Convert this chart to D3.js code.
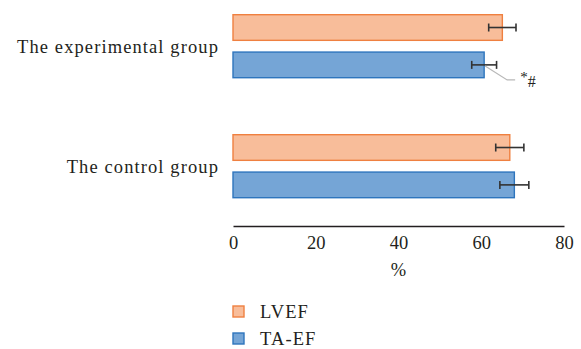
<!DOCTYPE html>
<html>
<head>
<meta charset="utf-8">
<script src="https://cdn.jsdelivr.net/npm/d3@7"></script>
<style>
  html, body { margin: 0; padding: 0; background: #fff; }
  svg { display: block; }
  svg text { font-family: "Liberation Serif", "DejaVu Serif", serif !important; fill: #231f20; }
</style>
</head>
<body>
<svg id="chart" width="581" height="349"></svg>
<script>
// Groups (top to bottom) and the two measured series
const groups = ["The experimental group", "The control group"];
const series = ["LVEF", "TA-EF"];
const lvefMean = [65.1, 66.9];
const lvefSd = [3.3, 3.4];
const taefMean = [60.7, 68.0];
const taefSd = [3.0, 3.5];
const xTicks = [0, 20, 40, 60, 80];
const xLabel = "%";
const sigMark = "*#";

const colors = {
  "LVEF": { fill: "#f8bd9a", stroke: "#ef8040" },
  "TA-EF": { fill: "#75a5d6", stroke: "#2e75bd" }
};

const rows = [];
groups.forEach((g, i) => {
  rows.push({ group: g, series: "LVEF", mean: lvefMean[i], sd: lvefSd[i] });
  rows.push({ group: g, series: "TA-EF", mean: taefMean[i], sd: taefSd[i] });
});

const FS = 18.5, LS = "1.1px";
const svg = d3.select("#chart");

const x = d3.scaleLinear().domain([0, 80]).range([233, 564]);
const yGroup = d3.scaleBand().domain(groups).range([14.7, 197.7])
  .paddingInner(0.475).paddingOuter(0);
const ySeries = d3.scaleBand().domain(series).range([0, yGroup.bandwidth()])
  .paddingInner(0.314).paddingOuter(0);

// Bars
svg.append("g").selectAll("rect").data(rows).join("rect")
  .attr("x", x(0))
  .attr("y", d => yGroup(d.group) + ySeries(d.series))
  .attr("width", d => x(d.mean) - x(0))
  .attr("height", ySeries.bandwidth())
  .attr("fill", d => colors[d.series].fill)
  .attr("stroke", d => colors[d.series].stroke)
  .attr("stroke-width", 1.4);

// Error bars
const capH = 8;
const eb = svg.append("g").attr("stroke", "#333").attr("stroke-width", 1.6);
rows.forEach(d => {
  const cy = yGroup(d.group) + ySeries(d.series) + ySeries.bandwidth() / 2;
  const x0 = x(d.mean - d.sd), x1 = x(d.mean + d.sd);
  eb.append("line").attr("x1", x0).attr("x2", x1).attr("y1", cy).attr("y2", cy);
  eb.append("line").attr("x1", x0).attr("x2", x0).attr("y1", cy - capH / 2).attr("y2", cy + capH / 2);
  eb.append("line").attr("x1", x1).attr("x2", x1).attr("y1", cy - capH / 2).attr("y2", cy + capH / 2);
});

// Significance callout on the experimental TA-EF bar
{
  const d = rows.find(r => r.group === groups[0] && r.series === "TA-EF");
  const cy = yGroup(d.group) + ySeries(d.series) + ySeries.bandwidth() / 2;
  const sx = x(d.mean) + 1;
  svg.append("polyline")
    .attr("points", [[sx, cy + 1], [sx + 22, cy + 15], [sx + 30, cy + 15]].map(p => p.join(",")).join(" "))
    .attr("fill", "none").attr("stroke", "#b8b8b8").attr("stroke-width", 1.2);
  const t = svg.append("text").attr("x", sx + 35).attr("y", cy + 22).attr("font-size", 16);
  t.append("tspan").attr("dy", -5).attr("font-size", 15).text(sigMark[0]);
  t.append("tspan").attr("dy", 5).text(sigMark.slice(1));
}

// Group labels
svg.append("g").selectAll("text").data(groups).join("text")
  .attr("x", 219)
  .attr("y", g => yGroup(g) + yGroup.bandwidth() / 2)
  .attr("dy", "0.35em")
  .attr("text-anchor", "end")
  .attr("font-size", FS)
  .style("letter-spacing", LS)
  .text(g => g);

// X axis: baseline plus tick labels, no tick marks
const axis = d3.axisBottom(x).tickValues(xTicks).tickSize(0).tickPadding(10);
const ax = svg.append("g").attr("transform", "translate(0,226)").call(axis);
ax.select(".domain").attr("stroke", "#231f20").attr("stroke-width", 1.3);
ax.selectAll("text").attr("font-size", FS).attr("fill", "#231f20");

svg.append("text")
  .attr("x", x(40)).attr("y", 270).attr("dy", "0.35em")
  .attr("text-anchor", "middle").attr("font-size", FS)
  .text(xLabel);

// Legend
const leg = svg.append("g").selectAll("g").data(series).join("g")
  .attr("transform", (s, i) => `translate(233,${306 + i * 27})`);
leg.append("rect").attr("width", 11).attr("height", 11)
  .attr("fill", s => colors[s].fill).attr("stroke", s => colors[s].stroke).attr("stroke-width", 1.4);
leg.append("text").attr("x", 27).attr("y", 6).attr("dy", "0.35em")
  .attr("font-size", FS).style("letter-spacing", LS).text(s => s);
</script>
</body>
</html>
